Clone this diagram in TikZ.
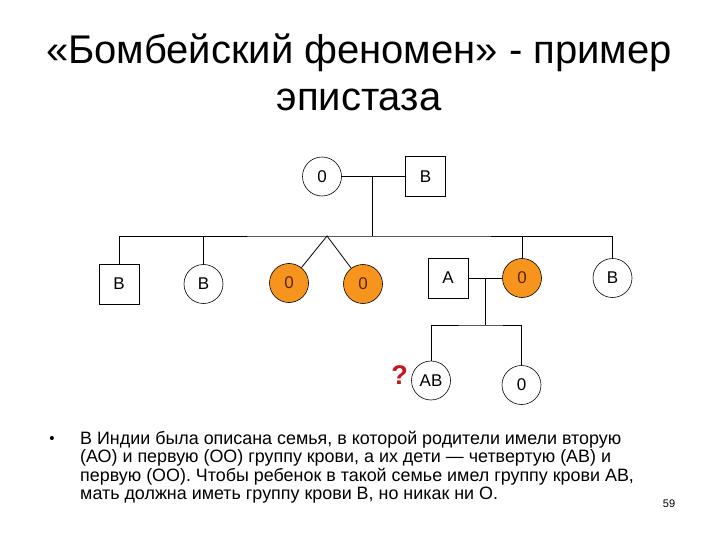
\documentclass[tikz,border=0pt]{standalone}
\usepackage{fontspec}
\setmainfont{Liberation Sans}
\definecolor{bloodorange}{RGB}{247,148,29}
\definecolor{darkbrown}{RGB}{90,35,0}
\definecolor{qred}{RGB}{200,20,30}
\tikzset{
  male/.style={draw,line width=0.7pt,minimum size=40pt,inner sep=0pt,font=\fontsize{17}{17}\selectfont},
  female/.style={draw,circle,line width=0.6pt,minimum size=39pt,inner sep=0pt,font=\fontsize{17}{17}\selectfont},
  ofemale/.style={female,fill=bloodorange,text=darkbrown},
  link/.style={line width=0.8pt}
}
\begin{document}
\begin{tikzpicture}[x=1pt,y=-1pt]
\useasboundingbox (0,0) rectangle (720,540);
% title
\node[align=center,font=\fontsize{40}{47}\selectfont] (title) at (359,72) {«Бомбейский феномен» - пример\\эпистаза};
% parents
\node[female] (p1) at (322,176.5) {0};
\node[male] (p2) at (425.5,176.5) {B};
\coordinate (m1) at (372,176.5);
\coordinate (sib) at (372,236);
\coordinate (tw) at (327,236);
% children
\node[male] (c1) at (119,284) {B};
\node[female] (c2) at (203.5,284) {B};
\node[ofemale] (c3) at (289,283) {0};
\node[ofemale] (c4) at (363,284) {0};
\node[male] (a) at (448,278) {A};
\node[ofemale] (c5) at (522,278) {0};
\node[female] (c6) at (612.5,278) {B};
% grandchildren
\node[female] (g1) at (431,380.5) {AB};
\node[female] (g2) at (521.5,385) {0};
\node[text=qred,font=\fontsize{27}{27}\selectfont\bfseries] (q) at (399.5,375) {?};
\coordinate (m2) at (485,278);
\coordinate (bar) at (485,325);
% connectors
\draw[link] (p1) -- (p2);
\draw[link] (m1) -- (sib);
\draw[link] (c1.north) |- (sib) -| (c6.north);
\draw[link] (c2.north) -- (c2.north |- sib);
\draw[link] (c5.north) -- (c5.north |- sib);
\draw[link] (c3) -- (tw) -- (c4);
\draw[link] (a) -- (c5);
\draw[link] (m2) -- (bar);
\draw[link] (g1.north) |- (bar) -| (g2.north);
% text
\node[font=\fontsize{15}{15}\selectfont] (bul) at (52,440) {•};
\node[anchor=north west,align=left,inner sep=0pt,font=\fontsize{17.9}{18.3}\selectfont] (txt) at (80,431) {В Индии была описана семья, в которой родители имели вторую\\(АО) и первую (ОО) группу крови, а их дети — четвертую (АВ) и\\первую (ОО). Чтобы ребенок в такой семье имел группу крови АВ,\\мать должна иметь группу крови В, но никак ни О.};
\node[font=\fontsize{11}{11}\selectfont] (pg) at (669,504) {59};
\end{tikzpicture}
\end{document}
